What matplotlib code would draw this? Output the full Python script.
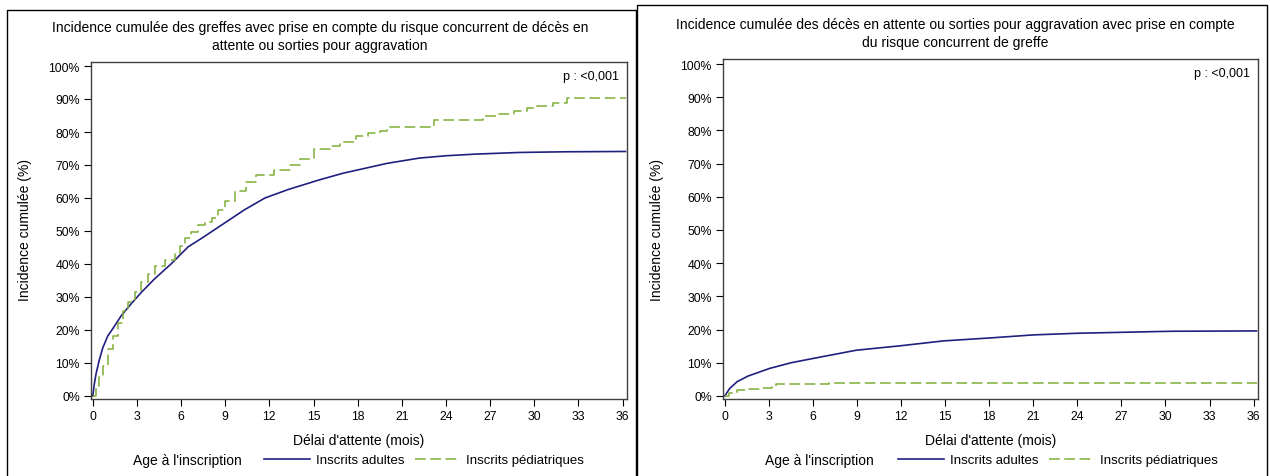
import matplotlib.pyplot as plt
from matplotlib.lines import Line2D
from matplotlib.ticker import FuncFormatter

plt.rcParams['font.family'] = ['Liberation Sans', 'DejaVu Sans']

# left panel: greffes (mois, %)
greffe_adulte_x = [0, 0.1, 0.23, 0.45, 0.68, 1.02, 1.36, 1.93, 2.6, 3.3, 4.2, 5.34, 6.48, 7.4, 8.75,
                   10.3, 11.7, 13.3, 15.4, 17.0, 18.5, 20.0, 22.2, 24.0, 26.0, 29.0, 32.0, 36.2]
greffe_adulte_y = [0, 3.5, 6.9, 11, 14.6, 18.2, 20.4, 24.3, 27.9, 31.4, 35.5, 40.1, 45.2, 47.8, 51.8,
                   56.4, 60, 62.6, 65.5, 67.5, 69, 70.5, 72.1, 72.8, 73.3, 73.8, 74.0, 74.1]

greffe_pedia_x = [0, 0.23, 0.45, 0.68, 1.02, 1.36, 1.7, 2.05, 2.4, 2.84, 3.3, 3.75, 4.2, 4.9, 5.57,
                  5.9, 6.25, 6.7, 7.16, 7.6, 8.07, 8.5, 9.0, 9.66, 10.4, 11.1, 12.3, 13.4, 14.1,
                  15.0, 16.1, 16.8, 17.9, 18.7, 19.5, 20.0, 23.2, 26.5, 27.4, 28.6, 29.5, 30.2,
                  31.3, 32.2, 36.2]
greffe_pedia_y = [0, 2.9, 5.9, 9, 14.1, 18.2, 22.2, 25.8, 28.4, 31.4, 34.5, 37, 39.4, 41.1, 43.2,
                  45.5, 47.8, 49.8, 51.8, 52.8, 53.9, 56.5, 59, 62, 65, 67, 68.5, 70, 71.8,
                  74.8, 75.8, 76.9, 78.9, 79.6, 80.4, 81.4, 83.6, 84.7, 85.5, 86.5, 87.2, 88,
                  88.8, 90.2, 90.2]

# right panel: deces / sorties pour aggravation
deces_adulte_x = [0, 0.34, 0.84, 1.58, 3.05, 4.5, 6.0, 8.97, 11.9, 14.9, 18.1, 21.0, 24.0, 27.2, 30.4, 36.2]
deces_adulte_y = [0, 2.3, 4.3, 6.0, 8.3, 10.0, 11.3, 13.8, 15.1, 16.6, 17.5, 18.4, 18.9, 19.2, 19.5, 19.6]

deces_pedia_x = [0, 0.3, 0.84, 1.5, 2.3, 3.2, 3.5, 7.1, 36.2]
deces_pedia_y = [0, 1.0, 1.8, 2.0, 2.3, 2.8, 3.5, 3.8, 3.8]

titles = ["Incidence cumulée des greffes avec prise en compte du risque concurrent de décès en\n"
          "attente ou sorties pour aggravation",
          "Incidence cumulée des décès en attente ou sorties pour aggravation avec prise en compte\n"
          "du risque concurrent de greffe"]
xticks = list(range(0, 37, 3))
yticks = list(range(0, 101, 10))

blue = '#202080'
green = '#7fae35'

W, H = 1270, 477
fig = plt.figure(figsize=(12.7, 4.77), dpi=100)


def box(l, r, t, b):
    return [l / W, 1 - b / H, (r - l) / W, (b - t) / H]


panels = [
    (box(91, 627, 63, 400), greffe_adulte_x, greffe_adulte_y, greffe_pedia_x, greffe_pedia_y, 67, 397),
    (box(723, 1258, 60, 400), deces_adulte_x, deces_adulte_y, deces_pedia_x, deces_pedia_y, 65, 397),
]
title_x = [320, 955]
title_y = [37, 34]
ylab_x = [25, 657]
leg_cx = [424, 1058]
legtitle_x = [187, 819]

for i, (pos, ax_, ay_, px_, py_, y100, y0) in enumerate(panels):
    ax = fig.add_axes(pos)
    ax.plot(ax_, ay_, color=blue, lw=1.2, label='Inscrits adultes')
    ax.plot(px_, py_, color=green, lw=1.1, dashes=(7, 3), drawstyle='steps-post',
            label='Inscrits pédiatriques')
    # y limits from pixel geometry
    ppp = (y0 - y100) / 100.0
    ax.set_ylim(-(400 - y0) / ppp, 100 + (y100 - (H * (1 - pos[1] - pos[3]))) / ppp)
    ax.set_xlim(-0.12, 36.3)
    ax.set_xticks(xticks)
    ax.set_yticks(yticks)
    ax.yaxis.set_major_formatter(FuncFormatter(lambda v, p: '%d%%' % v))
    ax.tick_params(direction='out', length=5, width=0.8, labelsize=8.8, colors='black', pad=3)
    for s in ax.spines.values():
        s.set_linewidth(1.0)
        s.set_color('#404040')
    ax.set_xlabel("Délai d'attente (mois)", fontsize=10, labelpad=8)
    ax.text(0.985, 0.975, 'p : <0,001', transform=ax.transAxes, ha='right', va='top', fontsize=9)
    fig.text(ylab_x[i] / W, 1 - 230 / H, 'Incidence cumulée (%)', rotation=90,
             ha='center', va='center', fontsize=10)
    fig.text(title_x[i] / W, 1 - title_y[i] / H, titles[i], ha='center', va='center',
             fontsize=10, linespacing=1.35)
    fig.text(legtitle_x[i] / W, 1 - 461 / H, "Age à l'inscription", ha='center', va='center',
             fontsize=10)
    fig.legend(handles=ax.get_lines(), loc='center', ncol=2,
               bbox_to_anchor=(leg_cx[i] / W, 1 - 461 / H), frameon=False, fontsize=9.5,
               handlelength=3.5, handletextpad=0.4, columnspacing=0.8, borderpad=0)

# panel frames
def fline(xs, ys):
    fig.add_artist(Line2D([x / W for x in xs], [1 - y / H for y in ys], color='black', lw=1.0))

fline([7, 7, 636, 636], [477, 11, 11, 477])
fline([637, 637, 1267, 1267], [477, 6, 6, 477])

fig.savefig('out.png', dpi=100)
